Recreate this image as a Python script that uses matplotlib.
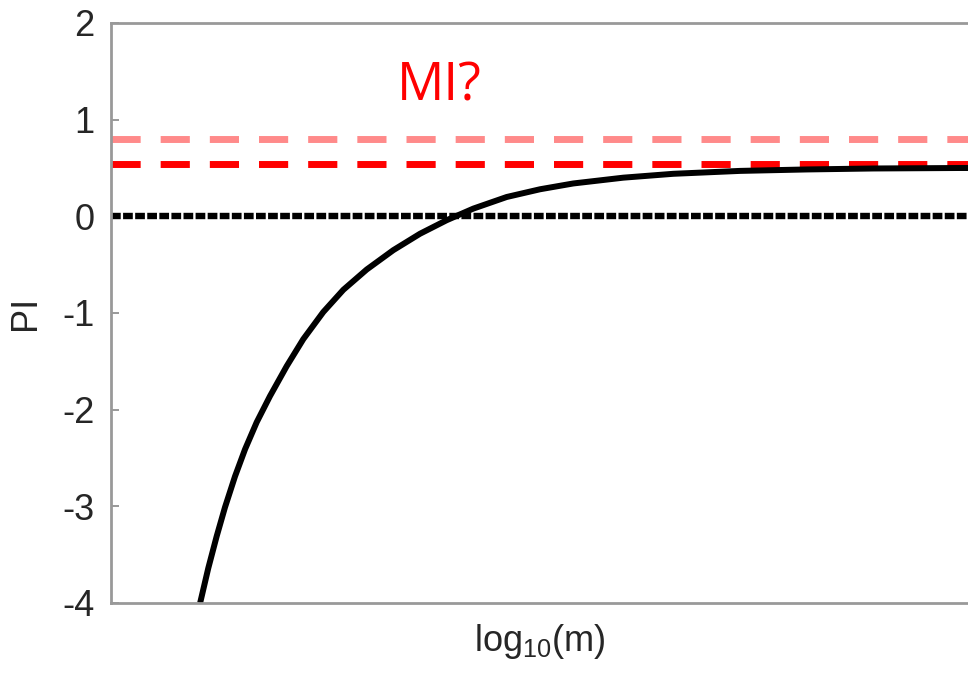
import matplotlib
matplotlib.use("Agg")
import matplotlib.pyplot as plt

plt.rcParams['font.family'] = ['Liberation Sans', 'DejaVu Sans']
plt.rcParams['lines.scale_dashes'] = False
plt.rcParams['axes.unicode_minus'] = False

# curve (x in arbitrary log10(m) units, 0..10 across the axes)
log_m = [1.04, 1.135, 1.233, 1.330, 1.447, 1.564, 1.700, 1.855, 2.050, 2.244,
         2.477, 2.711, 2.984, 3.294, 3.606, 3.917, 4.228, 4.617, 5.006, 5.394,
         5.978, 6.561, 7.340, 8.118, 8.895, 9.907, 10.0]
pi_vals = [-4.00, -3.64, -3.31, -3.01, -2.69, -2.41, -2.13, -1.86, -1.55, -1.27,
           -0.99, -0.76, -0.55, -0.35, -0.18, -0.04, 0.08, 0.20, 0.28, 0.34,
           0.40, 0.44, 0.47, 0.485, 0.495, 0.50, 0.50]

# reference levels
mi_upper = 0.80
mi_lower = 0.54
zero_level = 0.0

y_ticks = [2, 1, 0, -1, -2, -3, -4]

fig = plt.figure(figsize=(9.68, 6.76), dpi=100)
ax = fig.add_axes([111 / 968, 1 - 603 / 676, 1 - 111 / 968, 580 / 676])

ax.plot([0, 10], [mi_upper, mi_upper], color='#ff8a8a', lw=5, dashes=(21, 14.4),
        dash_capstyle='butt')
ax.plot([0, 10], [mi_lower, mi_lower], color='#ff0000', lw=5, dashes=(21, 14.4),
        dash_capstyle='butt')
ax.plot([0, 10], [zero_level, zero_level], color='black', lw=4.6, dashes=(7, 1.7),
        dash_capstyle='butt')
ax.plot(log_m, pi_vals, color='black', lw=4.3, solid_capstyle='butt',
        solid_joinstyle='round')

ax.text(3.33, 1.2, 'MI?', color='#ff0000', fontsize=38, family='Open Sans',
        ha='left', va='baseline')

ax.set_xlim(0, 10)
ax.set_ylim(-4, 2)
ax.set_xticks([])
ax.set_yticks(y_ticks)
ax.tick_params(axis='y', direction='in', length=6, width=1.2, color='#888888',
               labelsize=26, labelcolor='#262626', pad=12)

for side in ['left', 'bottom', 'top']:
    ax.spines[side].set_color('#999999')
    ax.spines[side].set_linewidth(2)
ax.spines['right'].set_visible(False)

ax.set_xlabel(r'log$_{\mathregular{10}}$(m)', fontsize=26, color='#262626', labelpad=14)
ax.set_ylabel('PI', fontsize=26, color='#262626', labelpad=14)

fig.savefig('out.png', dpi=100)
